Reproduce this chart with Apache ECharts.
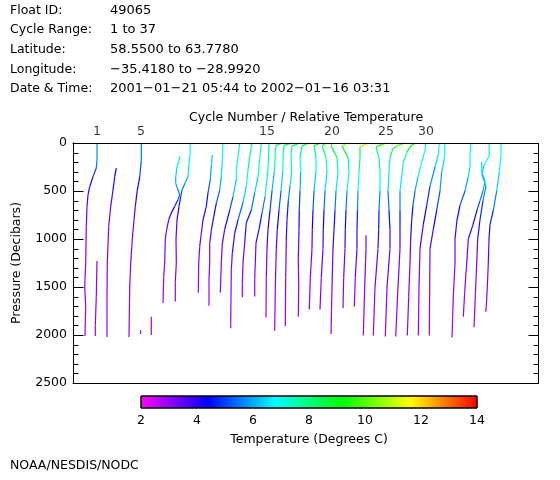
<!DOCTYPE html>
<html>
<head>
<meta charset="utf-8">
<script src="https://cdn.jsdelivr.net/npm/echarts@6/dist/echarts.min.js"></script>
<style>html,body{margin:0;padding:0;background:#fff;}#c{width:560px;height:480px;}</style>
</head>
<body>
<div id="c"></div>
<script>
// ---------------- DATA ----------------
const headerLabels = ['Float ID:', 'Cycle Range:', 'Latitude:', 'Longitude:', 'Date & Time:'];
const headerValues = ['49065', '1 to 37', '58.5500 to 63.7780', '\u221235.4180 to \u221228.9920', '2001\u221201\u221221 05:44 to 2002\u221201\u221216 03:31'];
const footerText = 'NOAA/NESDIS/NODC';

// top-axis cycle labels and their positions on the relative-temperature axis
const cycleLabels = ['1', '5', '15', '20', '25', '30'];
const cycleLabelPos = [24, 68, 194, 259, 313, 353];

const pressureRange = [0, 2500];
const pressureMajorStep = 500;
const pressureMinorStep = 100;
const colorbarRange = [2, 14];

// one entry per profile: pressure (dbar), position on the relative-temperature axis, temperature (deg C)
const pressure = [
  [0,180,260,350,455,540,660,870,1250,1500,1700,2010],
  [1230,1600,1900,2010],
  [262,350,490,660,870,1250,1600,2020],
  [0,180,354,490,660,800,1000,1250,1500,2020],
  [1950,1990],
  [1810,2000],
  [135,180,250,355,420,490,540,590,660,730,800,900,1000,1250,1400,1667],
  [0,130,230,350,420,490,560,660,800,1000,1250,1450,1650],
  [125,240,380,520,660,800,940,1080,1250,1560],
  [0,180,350,490,630,770,910,1050,1250,1420,1695],
  [0,140,280,380,560,700,900,1050,1250,1560],
  [0,140,280,450,620,800,940,1150,1320,1880,1930],
  [0,170,350,520,700,830,1040,1250,1460,1608],
  [0,200,350,560,730,900,1040,1250,1420,1600],
  [0,25,100,300,500,700,900,1100,1400,1817],
  [0,25,100,300,500,700,900,1100,1500,1955],
  [0,30,120,300,450,600,800,1000,1400,1905],
  [0,30,150,300,500,700,900,1200,1500,1810],
  [0,30,150,300,500,700,900,1100,1400,1735],
  [0,30,150,300,500,700,900,1100,1400,1735],
  [0,30,150,300,500,700,900,1100,1500,1990],
  [0,30,150,300,500,700,900,1100,1400,1720],
  [0,40,150,300,500,700,900,1100,1400,1705],
  [960,1100,1500,2005],
  [0,40,150,300,500,700,900,1100,1500,2005],
  [0,30,60,150,300,500,700,900,1100,1500,2015],
  [0,40,100,200,350,500,700,900,1100,1500,2015],
  [0,80,200,350,500,650,800,1000,1250,1600,2005],
  [0,120,250,450,650,850,1100,1500,2005],
  [0,160,300,500,700,900,1100,1500,2005],
  [0,150,250,350,500,650,800,1000,1250,1600,2025],
  [195,300,400,500,600,700,850,1000,1250,1500,1810],
  [0,130,230,330,450,600,800,1000,1250,1500,1920],
  [0,130,300,500,700,850,1000,1250,1500,1700,1757]
];
const position = [
  [24,24,23.3,20,16.7,15,14,13.3,12.7,11.7,12.7,12],
  [24,23.3,22.3,22.3],
  [43.3,41.7,40,37.7,35.7,34.3,34,34],
  [68.3,68.3,66.7,64.3,62.3,61,59.3,57.7,56.7,56],
  [67.7,67.7],
  [78.3,78.3],
  [107.3,106,104,102.7,102.7,105,106.7,105,101.7,98.3,95.7,93.7,92.3,91.7,90.7,90],
  [117.3,117,116,115,112,109,107.7,106,104,103,103.3,102.3,102.3],
  [139.3,138.3,137.3,135,133.3,130,128.3,126.7,125.7,125.3],
  [150,149.3,148.3,146.7,143.3,140.7,138.3,136.7,136.7,136,136],
  [166.7,165,163.3,163.3,160,156.7,151.7,149.3,148.3,147.3],
  [179,176.7,175,173.3,170,165,161.7,159.3,158.3,157.7,157.7],
  [188.3,186.7,185,181.7,178.3,173.3,171.7,170,169.3,169.3],
  [196,195.3,194.3,192,189,186,183,182.3,181.7,181.7],
  [210,203,202.3,201.3,199,197,195,194,193.3,193],
  [219,211,210.3,209.7,208,206,204.3,203.3,202.3,201.7],
  [227,219.3,218,218.7,217,215.3,214,213.3,212.7,212.3],
  [236,229,227,227.7,227,226.3,226,225.3,225.7,225.3],
  [247,241,243,243,241,240,239.3,239,237.3,236.3],
  [253,249,253,254,252,251,250.3,250,248.3,247],
  [259,258,264,265,263,262,261,260,259,258],
  [274,269,275,276,274,273,272.3,272,270.7,270],
  [295,287,287,286,285,284.5,284,284,282.3,281.3],
  [293,293,291.7,290.3],
  [313,303,306,307,307,306,305.7,305,302,300.3],
  [332,324,320,317,316,315,316,317,317,314,312.3],
  [342,337,333.7,330.3,328.7,327,327,327,327,325,322.7],
  [353,352,348.7,345,342,340,338.7,337.7,337,335.7,334.3],
  [366.3,365.3,362,357,353.7,350.3,347,346,345.3],
  [372,371.3,368.7,367,363.7,360.3,357,356.7,356.3],
  [397.7,397,397,395.3,392,387,384,382,382,380.3,379],
  [408.7,408.7,412,410,407,404,400,395.3,393.7,392,390.3],
  [416.3,416.3,411,409,413,410,407,404.7,403.7,402.7,401],
  [428,428,426.3,423.7,420.3,417,416,415.3,414.3,413.3,412.7]
];
const temperature = [
  [5.8,5.7,5.3,4.6,4.1,3.7,3.4,3.25,3.1,3.0,3.0,2.9],
  [3.1,3.0,2.95,2.9],
  [4.5,4.2,3.8,3.5,3.3,3.1,3.0,2.9],
  [5.6,5.5,4.8,4.2,3.8,3.6,3.4,3.2,3.1,2.9],
  [2.9,2.9],
  [2.9,2.9],
  [7.0,6.9,6.6,6.2,6.0,5.7,5.4,5.0,4.5,4.0,3.7,3.4,3.3,3.1,3.0,2.95],
  [7.0,6.9,6.7,6.3,5.8,5.3,4.9,4.4,3.8,3.4,3.2,3.0,2.95],
  [6.5,6.2,5.6,4.8,4.2,3.8,3.5,3.3,3.1,2.95],
  [6.9,6.8,6.4,5.7,4.9,4.2,3.7,3.4,3.2,3.0,2.9],
  [7.8,7.6,7.2,6.8,5.6,4.7,3.8,3.4,3.2,3.0],
  [8.0,7.7,7.3,6.8,5.9,4.8,4.1,3.5,3.2,2.95,2.9],
  [7.4,7.2,6.8,6.0,5.0,4.2,3.5,3.2,3.0,2.95],
  [7.7,7.5,7.0,6.2,5.1,4.2,3.5,3.2,3.0,2.95],
  [8.8,7.8,7.4,6.6,5.6,4.6,3.9,3.4,3.1,2.9],
  [9.0,8.0,7.5,6.8,5.8,4.7,3.9,3.4,3.1,2.9],
  [9.2,8.0,7.5,6.9,6.2,5.2,4.2,3.6,3.1,2.9],
  [9.4,8.1,7.3,6.6,5.5,4.5,3.8,3.3,3.1,2.95],
  [9.6,8.2,7.4,6.8,5.8,4.7,3.9,3.5,3.1,2.95],
  [9.8,8.4,7.6,7.0,6.0,4.9,4.0,3.5,3.2,2.95],
  [11.5,8.8,7.7,7.1,6.1,5.0,4.1,3.6,3.1,2.9],
  [12.7,9.0,7.8,7.2,6.2,5.0,4.1,3.6,3.2,2.95],
  [12.8,9.0,7.9,7.3,6.3,5.1,4.2,3.6,3.2,2.95],
  [3.4,3.3,3.1,2.9],
  [10.5,8.6,7.8,7.2,6.2,5.0,4.1,3.6,3.1,2.9],
  [11.3,9.2,8.4,7.7,7.0,6.0,4.9,4.1,3.6,3.1,2.9],
  [10.0,8.8,8.2,7.6,7.0,6.2,5.0,4.1,3.5,3.1,2.9],
  [7.6,7.4,7.0,6.4,5.7,4.9,4.3,3.7,3.3,3.1,2.9],
  [7.0,6.8,6.2,5.3,4.5,3.9,3.4,3.1,2.9],
  [6.9,6.7,6.2,5.5,4.6,3.9,3.4,3.1,2.9],
  [6.9,6.8,6.6,6.3,5.6,4.8,4.1,3.5,3.2,3.0,2.9],
  [6.6,6.4,6.2,5.8,5.3,4.8,4.1,3.5,3.2,3.0,2.9],
  [7.0,6.9,6.6,6.3,6.0,5.3,4.4,3.6,3.2,3.0,2.9],
  [7.0,6.9,6.6,6.0,5.1,4.3,3.7,3.3,3.1,3.0,2.95]
];

// ---------------- BUILD ----------------
const rainbow = ['#ff00ff', '#0000ff', '#00ffff', '#00ff00', '#ffff00', '#ff0000'];
const FONT = 'DejaVu Sans';
const FS = 12.5;
const TXT = {color: '#000', fontFamily: FONT, fontSize: FS};
const X_MAX = 465;

const segments = [];
for (let i = 0; i < pressure.length; i++) {
  const P = pressure[i], X = position[i], T = temperature[i];
  for (let j = 1; j < P.length; j++) {
    segments.push([X[j - 1], P[j - 1], X[j], P[j], (T[j - 1] + T[j]) / 2]);
  }
}
const tickValues = [];
for (let v = pressureRange[0]; v <= pressureRange[1]; v += pressureMinorStep) tickValues.push(v);
// frame item (kind 0) and tick items (kind 1 = left side, 2 = right side)
const frameItems = [[0, 0]];
tickValues.forEach(v => { frameItems.push([1, v]); frameItems.push([2, v]); });

const chart = echarts.init(document.getElementById('c'), null, {renderer: 'canvas'});

const graphics = [];
headerLabels.forEach((t, i) => {
  const y = 4 + 19.6 * i;
  graphics.push({type: 'text', left: 10, top: y, style: {text: t, font: FS + 'px "' + FONT + '"', fill: '#000'}});
  graphics.push({type: 'text', left: 110, top: y, style: {text: headerValues[i], font: '13px "' + FONT + '"', fill: '#000'}});
});
graphics.push({type: 'text', left: 10, top: 459, style: {text: footerText, font: FS + 'px "' + FONT + '"', fill: '#000'}});
graphics.push({type: 'text', left: 189, top: 111, style: {text: 'Cycle Number / Relative Temperature', font: FS + 'px "' + FONT + '"', fill: '#000'}});
// outer frame of the plot area, drawn on its own layer
graphics.push({type: 'rect', left: 73, top: 143, z: 100, zlevel: 1, silent: true,
  shape: {x: 0, y: 0, width: 465, height: 240},
  style: {fill: 'rgba(0,0,0,0)', stroke: '#000', lineWidth: 1}});

const xLine = {show: true, onZero: false, lineStyle: {color: '#000', width: 1}};
const option = {
  animation: false,
  backgroundColor: '#fff',
  graphic: graphics,
  grid: [
    {left: 73, right: 22, top: 143, bottom: 97},
    {left: 141, width: 336, top: 396, height: 12},
    {left: 73, right: 22, top: 143, bottom: 97}
  ],
  xAxis: [
    {type: 'value', gridIndex: 0, position: 'bottom', min: 0, max: X_MAX, axisLine: xLine,
      axisTick: {show: false}, axisLabel: {show: false}, splitLine: {show: false}},
    {type: 'value', gridIndex: 0, position: 'top', min: 0, max: X_MAX, axisLine: {show: true, onZero: false, lineStyle: {color: '#000', width: 1}},
      axisTick: {show: false}, axisLabel: {show: false}, splitLine: {show: false}},
    {type: 'value', gridIndex: 1, min: colorbarRange[0], max: colorbarRange[1], interval: 2,
      axisLine: {show: false}, axisTick: {show: false}, splitLine: {show: false},
      axisLabel: {color: '#000', fontFamily: FONT, fontSize: FS, margin: 6},
      name: 'Temperature (Degrees C)', nameLocation: 'middle', nameGap: 25, nameTextStyle: TXT},
    {type: 'value', gridIndex: 2, min: 0, max: 1, show: false}
  ],
  yAxis: [
    {type: 'value', gridIndex: 0, position: 'left', inverse: true, min: pressureRange[0], max: pressureRange[1],
      interval: pressureMajorStep, splitLine: {show: false},
      axisLine: {show: true, lineStyle: {color: '#000', width: 1}},
      axisTick: {show: false},
      axisLabel: {color: '#000', fontFamily: FONT, fontSize: FS, margin: 6, formatter: v => String(v)},
      name: 'Pressure (Decibars)', nameLocation: 'middle', nameGap: 50, nameRotate: 90, nameTextStyle: TXT},
    {type: 'value', gridIndex: 0, position: 'right', inverse: true, min: pressureRange[0], max: pressureRange[1],
      interval: pressureMajorStep, splitLine: {show: false},
      axisLine: {show: true, lineStyle: {color: '#000', width: 1}},
      axisTick: {show: false}, axisLabel: {show: false}},
    {type: 'value', gridIndex: 1, min: 0, max: 1, show: false},
    {type: 'value', gridIndex: 2, inverse: true, min: pressureRange[0], max: pressureRange[1], show: false}
  ],
  visualMap: {
    type: 'continuous', show: false, min: colorbarRange[0], max: colorbarRange[1],
    dimension: 4, seriesIndex: 0, inRange: {color: rainbow}
  },
  series: [
    {
      type: 'custom', xAxisIndex: 0, yAxisIndex: 0, data: segments,
      encode: {x: [0, 2], y: [1, 3]},
      renderItem: function (params, api) {
        const a = api.coord([api.value(0), api.value(1)]);
        const b = api.coord([api.value(2), api.value(3)]);
        return {type: 'line', shape: {x1: a[0], y1: a[1], x2: b[0], y2: b[1]},
          style: {stroke: api.visual('color'), lineWidth: 1.2, fill: null}};
      }
    },
    {
      type: 'scatter', xAxisIndex: 0, yAxisIndex: 0, clip: false, symbolSize: 1,
      itemStyle: {color: 'rgba(0,0,0,0)'},
      data: cycleLabels.map((c, i) => [cycleLabelPos[i], 0, c]),
      label: {show: true, position: 'top', distance: 4, formatter: p => p.data[2],
        color: '#000', fontFamily: FONT, fontSize: FS}
    },
    {
      type: 'custom', xAxisIndex: 2, yAxisIndex: 2, data: [colorbarRange],
      renderItem: function (params, api) {
        const a = api.coord([api.value(0), 1]);
        const b = api.coord([api.value(1), 0]);
        return {type: 'rect', shape: {x: a[0], y: a[1], width: b[0] - a[0], height: b[1] - a[1]},
          style: {fill: new echarts.graphic.LinearGradient(0, 0, 1, 0,
            rainbow.map((c, i) => ({offset: i / (rainbow.length - 1), color: c}))),
            stroke: '#000', lineWidth: 1}};
      }
    },
    {
      // plot frame and inward ticks on both pressure axes, on a separate top layer
      type: 'custom', xAxisIndex: 3, yAxisIndex: 3, data: frameItems, zlevel: 1, z: 100,
      renderItem: function (params, api) {
        const kind = api.value(0), v = api.value(1);
        const tl = api.coord([0, pressureRange[0]]);
        const br = api.coord([1, pressureRange[1]]);
        if (kind === 0) {
          return {type: 'rect', shape: {x: Math.round(tl[0]) + 0.5, y: Math.round(tl[1]) + 0.5,
            width: Math.round(br[0] - tl[0]), height: Math.round(br[1] - tl[1])},
            style: {fill: 'rgba(0,0,0,0)', stroke: '#000', lineWidth: 1}};
        }
        const p = api.coord([0, v]);
        const len = (v % pressureMajorStep === 0) ? 10 : 5;
        const x = kind === 1 ? Math.round(tl[0]) : Math.round(br[0]) - len + 1;
        return {type: 'rect', shape: {x: x, y: Math.round(p[1]), width: len, height: 1},
          style: {fill: '#000'}};
      }
    }
  ]
};
// the colour bar series uses the colour-bar axes (xAxis 2 / yAxis 2)
option.series[2].xAxisIndex = 2;
option.series[2].yAxisIndex = 2;
option.xAxis[2].gridIndex = 1;
option.yAxis[2].gridIndex = 1;
chart.setOption(option);

// inward ticks also added through the chart's own pressure scale (same positions)
try {
  const extra = [];
  tickValues.forEach(v => {
    const l = chart.convertToPixel({xAxisIndex: 0, yAxisIndex: 0}, [0, v]);
    const r = chart.convertToPixel({xAxisIndex: 0, yAxisIndex: 0}, [X_MAX, v]);
    if (!l || !r) return;
    const len = (v % pressureMajorStep === 0) ? 10 : 5;
    const y = Math.round(l[1]) + 0.5;
    extra.push({type: 'line', z: 100, zlevel: 1, silent: true,
      shape: {x1: Math.round(l[0]), y1: y, x2: Math.round(l[0]) + len + 0.5, y2: y}, style: {stroke: '#000', lineWidth: 1}});
    extra.push({type: 'line', z: 100, zlevel: 1, silent: true,
      shape: {x1: Math.round(r[0]) - len + 0.5, y1: y, x2: Math.round(r[0]) + 1, y2: y}, style: {stroke: '#000', lineWidth: 1}});
  });
  if (extra.length) chart.setOption({graphic: graphics.concat(extra)});
} catch (e) { /* ticks are also drawn by the frame series */ }
</script>
</body>
</html>
